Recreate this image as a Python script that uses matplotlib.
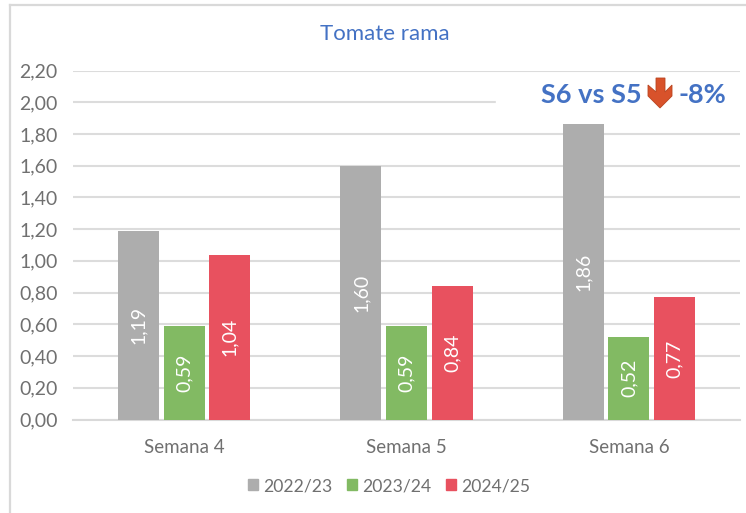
import matplotlib
matplotlib.use("Agg")
import matplotlib.pyplot as plt
from matplotlib.patches import Polygon, Rectangle
from matplotlib.lines import Line2D
import numpy as np

W, H = 746, 513
categories = ["Semana 4", "Semana 5", "Semana 6"]
seasons = ["2022/23", "2023/24", "2024/25"]
v2223 = [1.19, 1.60, 1.86]
v2324 = [0.59, 0.59, 0.52]
v2425 = [1.04, 0.84, 0.77]
colors = ["#ADADAD", "#82BA63", "#E8515F"]
yticks = [0.0, 0.2, 0.4, 0.6, 0.8, 1.0, 1.2, 1.4, 1.6, 1.8, 2.0, 2.2]
TXT = "#707070"

plt.rcParams["font.family"] = ["Lato", "DejaVu Sans"]
fig = plt.figure(figsize=(W / 100, H / 100), dpi=100)

def fx(p): return p / W
def fy(p): return 1 - p / H

# outer frame
for xs, ys in [((10, 10), (5, 513)), ((10, 746), (5, 5))]:
    fig.add_artist(Line2D([fx(x) for x in xs], [fy(y) for y in ys], color="#D9D9D9", lw=1.6))

ax = fig.add_axes([fx(73), fy(419.5), fx(740) - fx(73), (419.5 - 70.5) / H])
ax.set_xlim(-0.5, 2.5)
ax.set_ylim(0, 2.2)
ax.set_axisbelow(True)
ax.yaxis.grid(True, color="#DCDCDC", lw=1.5)
for s in ["top", "right", "left"]:
    ax.spines[s].set_visible(False)
ax.spines["bottom"].set_color("#D9D9D9")
ax.spines["bottom"].set_linewidth(1.5)
ax.set_yticks(yticks)
ax.set_yticklabels([f"{t:.2f}".replace(".", ",") for t in yticks], fontsize=14, color=TXT)
ax.set_xticks(range(3))
ax.set_xticklabels(categories, fontsize=13.5, color=TXT)
ax.tick_params(length=0)
ax.tick_params(axis="y", pad=11)
ax.tick_params(axis="x", pad=14)

x = np.arange(3)
step, width = 0.205, 0.185
for i, (vals, c, lab) in enumerate(zip([v2223, v2324, v2425], colors, seasons)):
    bars = ax.bar(x + (i - 1) * step, vals, width, color=c, label=lab, zorder=3)
    for b, v in zip(bars, vals):
        ax.text(b.get_x() + b.get_width() / 2, v / 2, f"{v:.2f}".replace(".", ","),
                rotation=90, ha="center", va="center", color="white", fontsize=14, zorder=4)

# white box of the annotation hides part of the 2,00 gridline
fig.add_artist(Rectangle((fx(496), fy(110)), fx(740) - fx(496), 16 / H, color="white",
                         transform=fig.transFigure, zorder=5))

fig.text(fx(385), fy(34), "Tomate rama", color="#4472C4", fontsize=16, ha="center", va="center")
fig.text(fx(541), fy(95), "S6 vs S5", color="#4472C4", fontsize=19.5, fontweight="bold",
         ha="left", va="center", zorder=6)
fig.text(fx(678), fy(95), "-8%", color="#4472C4", fontsize=19.5, fontweight="bold",
         ha="left", va="center", zorder=6)
arrow = [(656, 78), (665, 78), (665, 92), (672, 85), (672, 96), (660, 108), (648, 96), (648, 85), (656, 92)]
fig.add_artist(Polygon([(fx(a), fy(b)) for a, b in arrow], closed=True, facecolor="#D8522B",
                       edgecolor="#B9441F", lw=0.6, transform=fig.transFigure, zorder=6))

handles = [Rectangle((0, 0), 1, 1, color=c) for c in colors]
fig.legend(handles, seasons, loc="center", bbox_to_anchor=(fx(389), fy(486)), ncol=3, frameon=False,
           fontsize=12.6, labelcolor=TXT, handlelength=0.6, handleheight=0.6,
           handletextpad=0.3, columnspacing=0.8)
fig.savefig("out.png", dpi=100)
